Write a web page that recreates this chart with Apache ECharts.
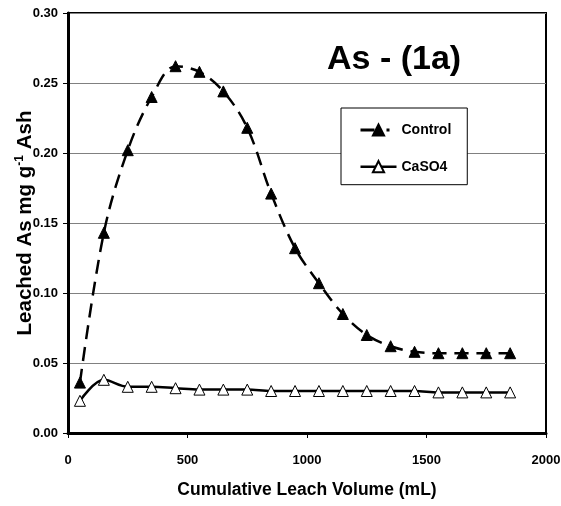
<!DOCTYPE html>
<html><head><meta charset="utf-8">
<script src="https://cdn.jsdelivr.net/npm/echarts@6/dist/echarts.min.js"></script>
<style>html,body{margin:0;padding:0;background:#fff}#c{width:561px;height:506px}</style>
</head><body><div id="c"></div>
<script>
const volumes = [50,150,250,350,450,550,650,750,850,950,1050,1150,1250,1350,1450,1550,1650,1750,1850];
const control = [0.036,0.143,0.202,0.240,0.262,0.258,0.244,0.218,0.171,0.132,0.107,0.085,0.070,0.062,0.058,0.057,0.057,0.057,0.057];
const caso4 = [0.023,0.038,0.033,0.033,0.032,0.031,0.031,0.031,0.030,0.030,0.030,0.030,0.030,0.030,0.030,0.029,0.029,0.029,0.029];
const yTicks = [0,0.05,0.10,0.15,0.20,0.25,0.30];
const xTicks = [0,500,1000,1500,2000];

const F = 'Liberation Sans, Arial, sans-serif';
const chart = echarts.init(document.getElementById('c'), null, {renderer:'canvas'});
const pair = (xs, ys) => xs.map((x,i)=>[x,ys[i]]);
chart.setOption({
  animation:false,
  backgroundColor:'#fff',
  title:{text:'As - (1a)', left:322, top:38, textStyle:{fontFamily:F, fontWeight:'bold', fontSize:34, color:'#000'}},
  legend:{
    orient:'vertical', left:341, top:108,
    backgroundColor:'#fff', borderColor:'#000', borderWidth:1,
    padding:[15,16,11,18], itemGap:22.7, itemWidth:36, itemHeight:14,
    textStyle:{fontFamily:F, fontWeight:'bold', fontSize:14, color:'#000'},
    data:[
      {name:'Control', lineStyle:{type:[14,12,3,20], width:3}},
      {name:'CaSO4', lineStyle:{type:'solid', width:2.5}}
    ]
  },
  grid:{left:68, right:15, top:13, bottom:73, show:true, borderColor:'#000', borderWidth:2,
        containLabel:false, outerBoundsMode:'none'},
  xAxis:{
    type:'value', min:0, max:2000, interval:500,
    name:'Cumulative Leach Volume (mL)', nameLocation:'middle', nameGap:48, nameMoveOverlap:false,
    nameTextStyle:{fontFamily:F, fontWeight:'bold', fontSize:17.5, color:'#000'},
    axisLine:{show:true, onZero:false, lineStyle:{color:'#000', width:3}},
    axisTick:{show:true, length:5, lineStyle:{color:'#000', width:1}},
    axisLabel:{fontFamily:F, fontWeight:'bold', fontSize:13, color:'#000', margin:21,
      formatter:v=>String(v)},
    splitLine:{show:false}
  },
  yAxis:{
    type:'value', min:0, max:0.30, interval:0.05,
    name:'{a|Leached As mg g}{s|-1}{a| Ash}', nameLocation:'middle', nameGap:32, nameMoveOverlap:false,
    nameTextStyle:{rich:{
      a:{fontFamily:F, fontWeight:'bold', fontSize:20.5, color:'#000'},
      s:{fontFamily:F, fontWeight:'bold', fontSize:12, color:'#000', verticalAlign:'top', padding:[0,0,10,0]}
    }},
    axisLine:{show:true, lineStyle:{color:'#000', width:3}},
    axisTick:{show:true, length:5, lineStyle:{color:'#000', width:1}},
    axisLabel:{fontFamily:F, fontWeight:'bold', fontSize:13, color:'#000', margin:10,
      formatter:v=>v.toFixed(2)},
    splitLine:{show:true, lineStyle:{color:'#808080', width:1}}
  },
  series:[
    {name:'Control', type:'line', data:pair(volumes,control), smooth:0.35,
     symbol:'triangle', symbolSize:11,
     itemStyle:{color:'#000', borderColor:'#000', borderWidth:1},
     lineStyle:{color:'#000', width:2.5, type:[14,8]}},
    {name:'CaSO4', type:'line', data:pair(volumes,caso4), smooth:0.35,
     symbol:'triangle', symbolSize:11,
     itemStyle:{color:'#fff', borderColor:'#000', borderWidth:1},
     lineStyle:{color:'#000', width:2.5}}
  ]
});
</script></body></html>
